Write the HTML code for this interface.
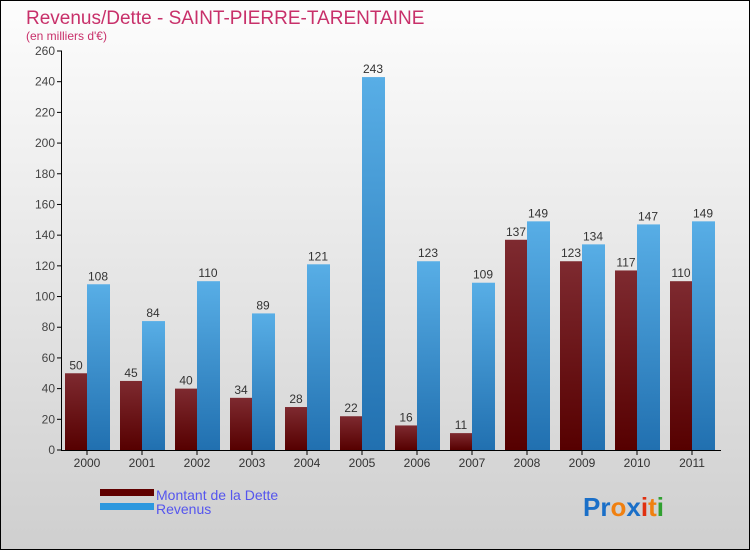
<!DOCTYPE html>
<html><head><meta charset="utf-8"><style>
body{margin:0}
#c{position:relative;width:748px;height:548px;border:1px solid #000;background:linear-gradient(#fdfdfd,#cfcfcf);font-family:"Liberation Sans",sans-serif;overflow:hidden}
</style></head><body>
<div id="c">
<svg id="s" width="748" height="548" style="position:absolute;left:0;top:0">
<defs>
<linearGradient id="gd" x1="0" y1="0" x2="0" y2="1"><stop offset="0" stop-color="#7e2a30"/><stop offset="1" stop-color="#560000"/></linearGradient>
<linearGradient id="gr" x1="0" y1="0" x2="0" y2="1"><stop offset="0" stop-color="#58aee6"/><stop offset="1" stop-color="#2170b0"/></linearGradient>
</defs>
<text x="25" y="23" font-size="19" fill="#c8306a">Revenus/Dette - SAINT-PIERRE-TARENTAINE</text>
<text x="25" y="39" font-size="12" fill="#c8306a">(en milliers d'€)</text>
<g id="g"></g>
<rect x="99" y="488" width="54" height="7" fill="#600000"/>
<rect x="99" y="502" width="54" height="7" fill="#2e98de"/>
<text x="155" y="499" font-size="14" fill="#5555ee">Montant de la Dette</text>
<text x="155" y="513" font-size="14" fill="#5555ee">Revenus</text>
<text x="582" y="515" font-size="26" font-weight="bold"><tspan fill="#1a6fc8">Pr</tspan><tspan fill="#f08010">o</tspan><tspan fill="#1a6fc8">x</tspan><tspan fill="#e03010">i</tspan><tspan fill="#f08010">t</tspan><tspan fill="#30a030">i</tspan></text>
</svg>
</div>
<script>
const years=["2000","2001","2002","2003","2004","2005","2006","2007","2008","2009","2010","2011"];
const debt=[50,45,40,34,28,22,16,11,137,123,117,110];
const revenue=[108,84,110,89,121,243,123,109,149,134,147,149];
const yTicks=[0,20,40,60,80,100,120,140,160,180,200,220,240,260];
const NS="http://www.w3.org/2000/svg";
const g=document.getElementById('g');
const y=v=>449-v*(399/260);
const x0=i=>59+55*i;
function mk(t,a){const e=document.createElementNS(NS,t);for(const k in a)e.setAttribute(k,a[k]);g.appendChild(e);return e;}
yTicks.forEach(v=>{
 const l=mk('line',{x1:56,x2:61,y1:y(v),y2:y(v),stroke:'#000'});
 
 
 const t=mk('text',{x:54,y:y(v)+4,'font-size':12,fill:'#444','text-anchor':'end'});t.textContent=v;
 
 
});
years.forEach((yr,i)=>{
 const b=x0(i);
 const d=mk('rect',{x:b+5,y:y(debt[i]),width:22,height:449-y(debt[i]),fill:'url(#gd)'});
 
 
 const r=mk('rect',{x:b+27,y:y(revenue[i]),width:23,height:449-y(revenue[i]),fill:'url(#gr)'});
 
 
 const dl=mk('text',{x:b+16,y:y(debt[i])-4,'font-size':12,fill:'#333','text-anchor':'middle'});dl.textContent=debt[i];
 
 
 const rl=mk('text',{x:b+38,y:y(revenue[i])-4,'font-size':12,fill:'#333','text-anchor':'middle'});rl.textContent=revenue[i];
 
 
 const tk=mk('line',{x1:b+27,x2:b+27,y1:449,y2:454,stroke:'#000'});
 
 
 const xl=mk('text',{x:b+27,y:466,'font-size':12,fill:'#333','text-anchor':'middle'});xl.textContent=yr;
 
 
});
const ya=mk('line',{x1:60.5,x2:60.5,y1:50,y2:450,stroke:'#000'});


const xa=mk('line',{x1:60,x2:720,y1:449.5,y2:449.5,stroke:'#000'});


</script>
</body></html>
